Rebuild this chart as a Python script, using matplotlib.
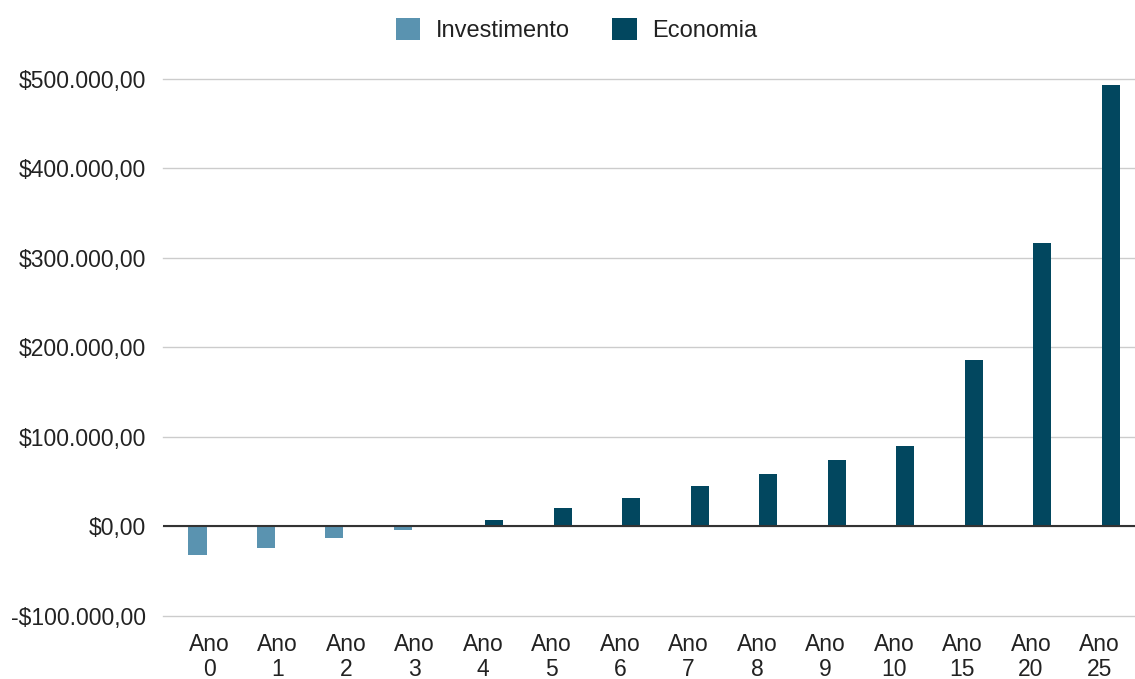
import numpy as np
import matplotlib
matplotlib.use("Agg")
import matplotlib.pyplot as plt
from matplotlib.ticker import FuncFormatter

plt.rcParams['font.family'] = ['Liberation Sans', 'DejaVu Sans']

anos = ['0', '1', '2', '3', '4', '5', '6', '7', '8', '9', '10', '15', '20', '25']
investimento = [-32000, -24000, -13000, -4000, 0, 0, 0, 0, 0, 0, 0, 0, 0, 0]
economia = [0, 0, 0, 0, 7500, 20000, 32000, 45000, 59000, 74500, 90000, 186000, 316000, 493500]

cor_inv = '#5a93b0'
cor_eco = '#02475f'


def moeda(v, pos):
    s = f"{abs(v):,.2f}".replace(',', 'X').replace('.', ',').replace('X', '.')
    return ('-$' if v < 0 else '$') + s


fig = plt.figure(figsize=(11.35, 6.79), dpi=100)
ax = fig.add_axes([0.1436, 0.093, 0.8564, 0.791])

x = np.arange(len(anos))
w = 0.263
ax.bar(x - 0.168, investimento, w, color=cor_inv, label='Investimento', zorder=3)
ax.bar(x + 0.168, economia, w, color=cor_eco, label='Economia', zorder=3)

ax.set_ylim(-100000, 500000)
ax.set_yticks(np.arange(-100000, 500001, 100000))
ax.yaxis.set_major_formatter(FuncFormatter(moeda))
ax.set_xlim(-0.672, 13.52)
ax.set_xticks(x)
ax.set_xticklabels([f'Ano\n{a}' for a in anos], linespacing=1.15)

ax.grid(axis='y', color='#cccccc', linewidth=1, zorder=0)
for gl in ax.get_ygridlines():
    gl.set_clip_on(False)
ax.axhline(0, color='#333333', linewidth=1.5, zorder=4)
for s in ax.spines.values():
    s.set_visible(False)
ax.tick_params(length=0, labelsize=16.5, colors='#222222')
ax.tick_params(axis='y', pad=12)
ax.tick_params(axis='x', pad=12)

fig.legend(loc='upper center', bbox_to_anchor=(0.508, 1.005), ncol=2, frameon=False,
           fontsize=17, handlelength=1.05, handleheight=1.05, columnspacing=1.8,
           handletextpad=0.65, labelcolor='#222222')

fig.savefig('out.png', dpi=100)
